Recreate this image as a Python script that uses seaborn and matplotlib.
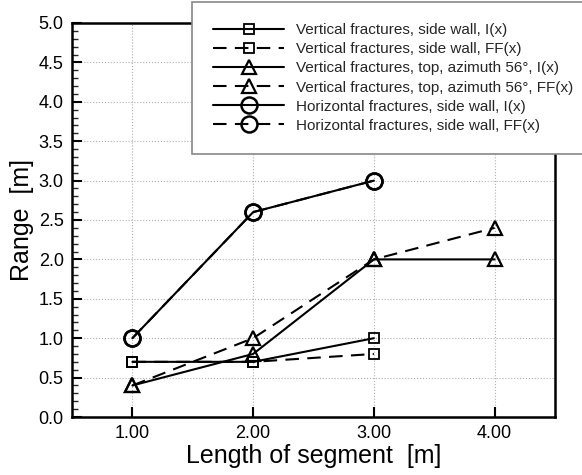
import matplotlib
matplotlib.use("Agg")
import matplotlib.pyplot as plt
import seaborn as sns
import numpy as np
from matplotlib.ticker import MultipleLocator, FormatStrFormatter

sns.set_theme(style="white")
plt.rcParams['font.family'] = ['Liberation Sans', 'DejaVu Sans']

# Data
x_vs = [1, 2, 3]
vs_I = [0.7, 0.7, 1.0]
vs_FF = [0.7, 0.7, 0.8]
x_vt = [1, 2, 3, 4]
vt_I = [0.4, 0.8, 2.0, 2.0]
vt_FF = [0.4, 1.0, 2.0, 2.4]
x_hs = [1, 2, 3]
hs_I = [1.0, 2.6, 3.0]
hs_FF = [1.0, 2.6, 3.0]

labels = [
    "Vertical fractures, side wall, I(x)",
    "Vertical fractures, side wall, FF(x)",
    "Vertical fractures, top, azimuth 56°, I(x)",
    "Vertical fractures, top, azimuth 56°, FF(x)",
    "Horizontal fractures, side wall, I(x)",
    "Horizontal fractures, side wall, FF(x)",
]

series = [
    (x_vs, vs_I, 's', '-', 6.5, 1.3),
    (x_vs, vs_FF, 's', '--', 6.5, 1.3),
    (x_vt, vt_I, '^', '-', 9.5, 1.6),
    (x_vt, vt_FF, '^', '--', 9.5, 1.6),
    (x_hs, hs_I, 'o', '-', 11.5, 1.8),
    (x_hs, hs_FF, 'o', '--', 11.5, 1.8),
]

fig = plt.figure(figsize=(5.82, 4.75), dpi=100)
ax = fig.add_axes([72/582, 1-417/475, (555-72)/582, (417-23)/475])

for (xs, ys, mk, ls, ms, mew), lab in zip(series, labels):
    sns.lineplot(x=xs, y=ys, ax=ax, color='black', marker=mk,
                 markersize=ms, markeredgewidth=mew, markerfacecolor='none',
                 markeredgecolor='black', linewidth=1.5, label=lab)
    ax.lines[-1].set_linestyle(ls)
    if ls == '--':
        ax.lines[-1].set_dashes((6.5, 4))

ax.set_xlim(0.5, 4.5)
ax.set_ylim(0, 5)
ax.set_xticks([1, 2, 3, 4])
ax.xaxis.set_major_formatter(FormatStrFormatter('%.2f'))
ax.yaxis.set_major_locator(MultipleLocator(0.5))
ax.yaxis.set_minor_locator(MultipleLocator(0.1))
ax.yaxis.set_major_formatter(FormatStrFormatter('%.1f'))
ax.tick_params(axis='both', which='major', direction='in', length=7, width=1.5,
               labelsize=13, color='black', labelcolor='black', left=True, bottom=True, pad=6)
ax.tick_params(axis='y', which='minor', direction='in', length=4, width=1, left=True)
ax.grid(True, which='major', linestyle=':', color='#b0b0b0', linewidth=0.8)
for s in ax.spines.values():
    s.set_color('black')
    s.set_linewidth(1.8)

ax.set_xlabel("Length of segment  [m]", fontsize=18, color='black', labelpad=1)
ax.set_ylabel("Range  [m]", fontsize=18, color='black', labelpad=3)

leg = ax.legend(loc='upper left', bbox_to_anchor=(192/582, 1-2/475), bbox_transform=fig.transFigure,
                fontsize=11, handlelength=4.6, frameon=True, fancybox=False,
                edgecolor='#888888', framealpha=1, borderpad=1.4, labelspacing=0.33,
                handletextpad=0.8, borderaxespad=0)
leg.get_frame().set_linewidth(1.2)
leg.set_zorder(10)

fig.savefig("out.png", dpi=100)
